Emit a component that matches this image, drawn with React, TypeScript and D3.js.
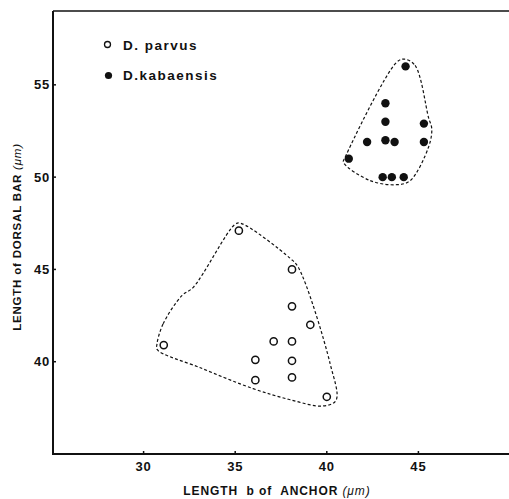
import * as d3 from 'd3';

// D. parvus (open circles): [anchor b, dorsal bar]
const parvusX = [31.1, 35.2, 38.1, 38.1, 39.1, 37.1, 38.1, 36.1, 38.1, 36.1, 38.1, 40.0];
const parvusY = [40.9, 47.1, 45.0, 43.0, 42.0, 41.1, 41.1, 40.1, 40.05, 39.0, 39.15, 38.1];

// D. kabaensis (filled circles)
const kabaX = [44.3, 43.2, 43.2, 45.3, 42.2, 43.2, 43.7, 45.3, 41.2, 43.05, 43.55, 44.2];
const kabaY = [56.0, 54.0, 53.0, 52.9, 51.9, 52.0, 51.9, 51.9, 51.0, 50.0, 50.0, 50.0];

// dashed outlines drawn around each group
const parvusHullX = [30.73, 31.07, 32.09, 32.71, 35.0, 35.3, 38.0, 38.45, 40.18, 40.5, 39.75, 38.0, 35.98, 33.1, 30.75];
const parvusHullY = [40.96, 42.06, 43.58, 44.03, 47.45, 47.5, 45.6, 45.1, 39.9, 37.9, 37.6, 37.94, 38.54, 39.67, 40.65];
const kabaHullX = [44.24, 44.82, 45.55, 45.73, 45.55, 44.55, 43.82, 42.37, 40.91, 41.0, 43.82];
const kabaHullY = [56.39, 56.05, 53.24, 52.61, 51.62, 49.81, 49.59, 49.81, 50.8, 51.07, 56.23];

const xTicks = [30, 35, 40, 45];
const yTicks = [40, 45, 50, 55];

const W = 509;
const H = 499;
const FONT = '"Liberation Sans", Arial, sans-serif';

export default function App() {
  const x = d3.scaleLinear().domain([25, 50]).range([52, 510]);
  const y = d3.scaleLinear().domain([35, 59]).range([454, 11]);

  const hull = d3
    .line<[number, number]>()
    .x(d => x(d[0]))
    .y(d => y(d[1]))
    .curve(d3.curveCatmullRomClosed.alpha(0.5));

  const parvusPts = parvusX.map((v, i) => [v, parvusY[i]] as [number, number]);
  const kabaPts = kabaX.map((v, i) => [v, kabaY[i]] as [number, number]);
  const parvusHull = parvusHullX.map((v, i) => [v, parvusHullY[i]] as [number, number]);
  const kabaHull = kabaHullX.map((v, i) => [v, kabaHullY[i]] as [number, number]);

  const x0 = x(25) + 1;
  const yb = y(35);
  const yt = y(59);

  return (
    <svg
      width={W}
      height={H}
      style={{ position: 'absolute', left: 0, top: 0, background: '#fff' }}
      fontFamily={FONT}
    >
      {/* frame */}
      <line x1={x0} x2={W} y1={yt} y2={yt} stroke="#111" strokeWidth={1.6} />
      <line x1={x0} x2={x0} y1={yt} y2={yb} stroke="#111" strokeWidth={2} />
      <line x1={x0 - 1} x2={W} y1={yb} y2={yb} stroke="#111" strokeWidth={2} />

      {/* x ticks */}
      {xTicks.map(t => (
        <g key={t}>
          <line x1={x(t)} x2={x(t)} y1={yb} y2={yb - 3} stroke="#111" strokeWidth={1.5} />
          <text x={x(t)} y={471} textAnchor="middle" fontSize={13} letterSpacing={0.8} fontWeight="bold" fill="#111">
            {t}
          </text>
        </g>
      ))}

      {/* y ticks */}
      {yTicks.map(t => (
        <g key={t}>
          <line x1={x0} x2={x0 + 3} y1={y(t)} y2={y(t)} stroke="#111" strokeWidth={1.5} />
          <text x={50} y={y(t) + 4.5} textAnchor="end" fontSize={13} letterSpacing={0.8} fontWeight="bold" fill="#111">
            {t}
          </text>
        </g>
      ))}

      {/* axis titles */}
      <text
        x={277}
        y={495}
        textAnchor="middle"
        fontSize={12}
        letterSpacing={0.9}
        fontWeight="bold"
        fill="#111"
        style={{ whiteSpace: 'pre' }}
      >
        {'LENGTH  b of  ANCHOR '}
        <tspan fontStyle="italic" fontWeight="normal">(μm)</tspan>
      </text>
      <text
        transform="translate(21,237) rotate(-90)"
        textAnchor="middle"
        fontSize={11.5}
        letterSpacing={0.8}
        fontWeight="bold"
        fill="#111"
      >
        LENGTH of DORSAL BAR <tspan fontStyle="italic" fontWeight="normal">(μm)</tspan>
      </text>

      {/* outlines */}
      <path d={hull(parvusHull) ?? ''} fill="none" stroke="#111" strokeWidth={1.2} strokeDasharray="3,2.2" />
      <path d={hull(kabaHull) ?? ''} fill="none" stroke="#111" strokeWidth={1.2} strokeDasharray="3,2.2" />

      {/* points */}
      {parvusPts.map((d, i) => (
        <circle key={'p' + i} cx={x(d[0])} cy={y(d[1])} r={3.6} fill="#fff" stroke="#111" strokeWidth={1.5} />
      ))}
      {kabaPts.map((d, i) => (
        <circle key={'k' + i} cx={x(d[0])} cy={y(d[1])} r={4.2} fill="#111" />
      ))}

      {/* legend */}
      <circle cx={107.5} cy={44.5} r={3} fill="#fff" stroke="#111" strokeWidth={1.3} />
      <text x={123} y={49.5} fontSize={13.5} letterSpacing={1.5} fontWeight="bold" fill="#111">
        D. parvus
      </text>
      <circle cx={108.5} cy={75.5} r={3.6} fill="#111" />
      <text x={123} y={79.5} fontSize={13.5} letterSpacing={1.5} fontWeight="bold" fill="#111">
        D.kabaensis
      </text>
    </svg>
  );
}
